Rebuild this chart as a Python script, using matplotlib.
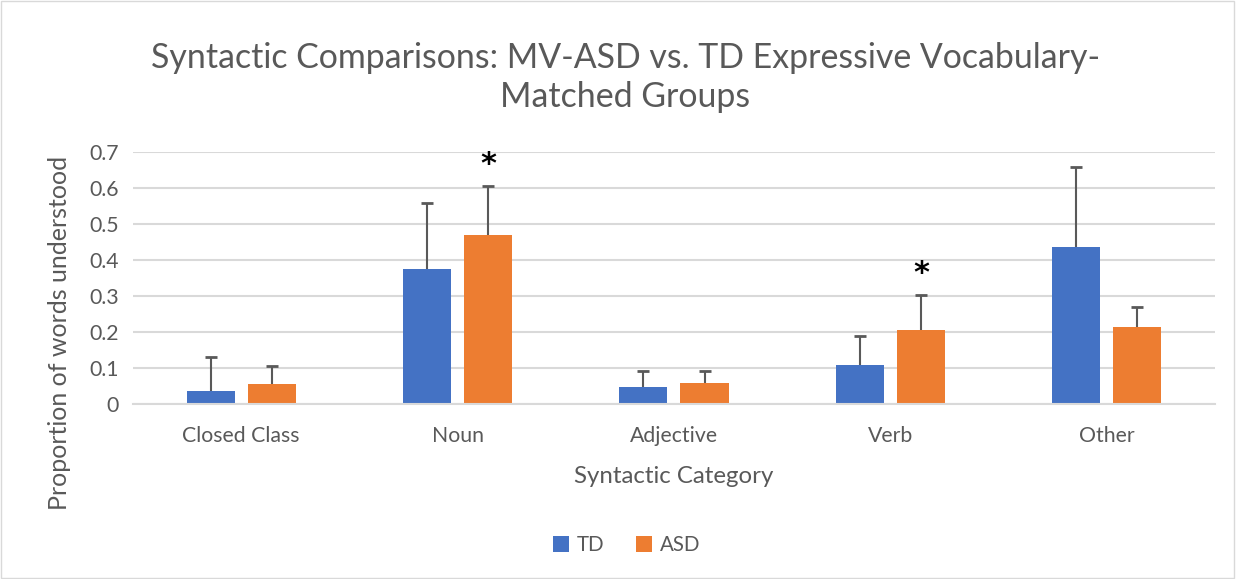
import numpy as np
import matplotlib.pyplot as plt
from matplotlib.patches import Rectangle

categories = ['Closed Class', 'Noun', 'Adjective', 'Verb', 'Other']
td_mean = [0.037, 0.374, 0.047, 0.108, 0.436]
td_err = [0.094, 0.183, 0.045, 0.082, 0.223]
asd_mean = [0.057, 0.469, 0.058, 0.206, 0.214]
asd_err = [0.050, 0.137, 0.034, 0.096, 0.057]
# categories marked significant (index -> asterisk over ASD bar)
signif = [1, 3]

plt.rcParams['font.family'] = ['Lato', 'DejaVu Sans']
GRAY = '#595959'

fig = plt.figure(figsize=(12.36, 5.79), dpi=100)
fig.patches.append(Rectangle((0.001, 0.002), 0.997, 0.996, transform=fig.transFigure,
                             fill=False, edgecolor='#d9d9d9', linewidth=1))
ax = fig.add_axes([0.1076, 0.302, 0.8754, 0.4355])

x = np.arange(len(categories))
w = 0.222
off = 0.141
err_kw = dict(ecolor=GRAY, elinewidth=1.5, capsize=4.5, capthick=2)
ax.bar(x - off, td_mean, w, color='#4472c4', label='TD')
ax.bar(x + off, asd_mean, w, color='#ed7d31', label='ASD')
for xs, m, e in [(x - off, td_mean, td_err), (x + off, asd_mean, asd_err)]:
    eb = ax.errorbar(xs, m, yerr=[np.zeros(len(m)), e], fmt='none', **err_kw)
    # only the upper cap is shown
    eb[1][0].set_visible(False)

for i in signif:
    ax.text(x[i] + off, asd_mean[i] + asd_err[i] + 0.02, '*', ha='center', va='bottom',
            fontsize=22, fontweight='bold', color='black', family='DejaVu Sans')

ax.set_xlim(-0.5, 4.5)
ax.set_ylim(0, 0.7)
ax.set_yticks(np.arange(0, 0.71, 0.1))
ax.set_yticklabels(['0', '0.1', '0.2', '0.3', '0.4', '0.5', '0.6', '0.7'])
ax.set_xticks(x)
ax.set_xticklabels(categories)
ax.tick_params(axis='both', length=0, labelsize=15.3, colors=GRAY, pad=10)
ax.tick_params(axis='x', pad=16)
ax.grid(axis='y', color='#d9d9d9', linewidth=1.5)
ax.set_axisbelow(True)
for s in ['top', 'right', 'left']:
    ax.spines[s].set_visible(False)
ax.spines['bottom'].set_color('#d9d9d9')
ax.spines['bottom'].set_linewidth(1.5)

ax.set_xlabel('Syntactic Category', fontsize=17.3, color=GRAY, labelpad=14)
ax.set_ylabel('Proportion of words understood', fontsize=18, color=GRAY)
ax.yaxis.set_label_coords(-0.057, 0.282)

fig.text(0.506, 0.866, 'Syntactic Comparisons: MV-ASD vs. TD Expressive Vocabulary-\nMatched Groups',
         ha='center', va='center', fontsize=24.4, color=GRAY, linespacing=1.3)

fig.legend(loc='center', bbox_to_anchor=(0.507, 0.059), ncol=2, frameon=False,
           fontsize=14.8, handlelength=0.8, handleheight=0.8, columnspacing=1.5,
           handletextpad=0.4, labelcolor=GRAY)

fig.savefig('out.png', dpi=100)
